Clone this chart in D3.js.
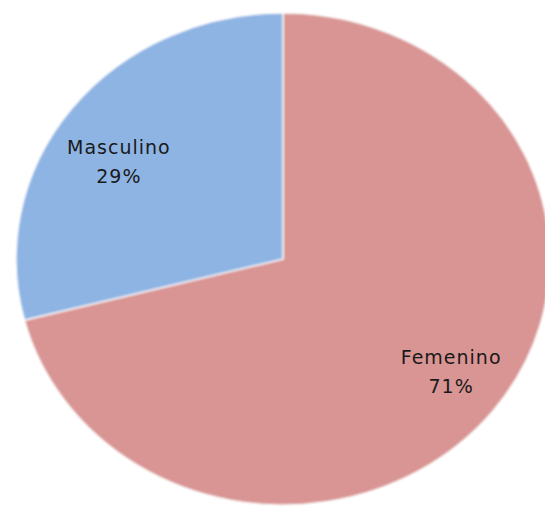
<!DOCTYPE html>
<html>
<head>
<meta charset="utf-8">
<script src="https://cdn.jsdelivr.net/npm/d3@7"></script>
<style>
  body { margin: 0; background: #fff; }
  svg { display: block; }
</style>
</head>
<body>
<div id="chart"></div>
<script>
var categories = ["Femenino", "Masculino"];
var values = [71, 29];
var pct_labels = ["71%", "29%"];
var colors = ["#D99594", "#8EB4E3"];

var width = 545, height = 510;
var cx = 283, cy = 259;
var radius = 246;
var stretch_x = 267 / 246;   // the original pie is drawn a bit wider than tall
var label_shift = -3.3 * Math.PI / 180;

var svg = d3.select("#chart")
    .append("svg")
    .attr("width", width)
    .attr("height", height);

var defs = svg.append("defs");
defs.append("filter")
    .attr("id", "soft")
    .attr("x", "-5%").attr("y", "-5%")
    .attr("width", "110%").attr("height", "110%")
    .append("feGaussianBlur")
    .attr("stdDeviation", 0.9);

var data = categories.map(function(c, i) {
    return {name: c, value: values[i], pct: pct_labels[i], color: colors[i]};
});

var pie = d3.pie()
    .sort(null)
    .value(function(d) { return d.value; });

var arc = d3.arc()
    .innerRadius(0)
    .outerRadius(radius);

var label_arc = d3.arc()
    .innerRadius(radius * 0.755)
    .outerRadius(radius * 0.755)
    .startAngle(function(d) { return d.startAngle + label_shift; })
    .endAngle(function(d) { return d.endAngle + label_shift; });

var g = svg.append("g")
    .attr("transform", `translate(${cx}, ${cy}) scale(${stretch_x}, 1)`);

g.append("g")
    .attr("filter", "url(#soft)")
    .selectAll("path")
    .data(pie(data))
    .enter()
    .append("path")
    .attr("d", arc)
    .style("fill", function(d) { return d.data.color; })
    .attr("stroke", "#fff")
    .attr("stroke-width", 1.2)
    .attr("stroke-linejoin", "miter");

// labels live outside the stretched group so the text is not distorted
var labels = svg.append("g")
    .selectAll("text")
    .data(pie(data))
    .enter()
    .append("text")
    .attr("transform", function(d) {
        var c = label_arc.centroid(d);
        return `translate(${cx + c[0] * stretch_x + 2}, ${cy + c[1]})`;
    })
    .style("text-anchor", "middle")
    .style("font-family", "'DejaVu Sans', sans-serif")
    .style("font-size", "19px")
    .style("letter-spacing", "1px")
    .style("fill", "#1a1a1a");

labels.append("tspan")
    .attr("x", 0)
    .attr("y", 0)
    .text(function(d) { return d.data.name; });

labels.append("tspan")
    .attr("x", 0)
    .attr("y", 29)
    .text(function(d) { return d.data.pct; });
</script>
</body>
</html>
